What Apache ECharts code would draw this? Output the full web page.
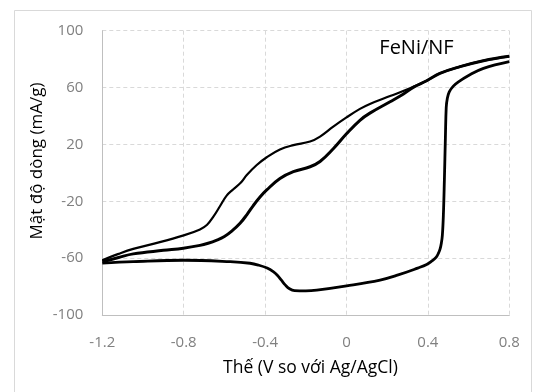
<!DOCTYPE html>
<html>
<head>
<meta charset="utf-8">
<script src="https://cdn.jsdelivr.net/npm/echarts@6/dist/echarts.min.js"></script>
<style>
html,body{margin:0;padding:0;background:#fff;}
#chart{width:533px;height:392px;}
</style>
</head>
<body>
<div id="chart"></div>
<script>
// Axis ticks
var xTicks = [-1.2, -0.8, -0.4, 0, 0.4, 0.8];
var yTicks = [-100, -60, -20, 20, 60, 100];

// Anodic branch (thin, upper)
var upperV = [-1.2, -1.12, -1.048, -0.95, -0.8, -0.72, -0.685, -0.655, -0.622, -0.589, -0.556, -0.52, -0.49, -0.441, -0.392, -0.327, -0.261, -0.179, -0.13, -0.065, 0.0, 0.066, 0.115, 0.214, 0.312, 0.394, 0.459, 0.558, 0.673, 0.8];
var upperI = [-61.5, -57, -53.5, -50, -44, -39.8, -36.5, -31, -23.5, -16, -11.5, -7, -1.5, 5.5, 11, 16.5, 19.5, 22, 25.5, 32.5, 39, 45, 48.5, 54, 59.5, 64.8, 70, 74.7, 78.9, 82];

// Anodic branch (thick, middle) – joins the upper branch near 0.3 V
var middleV = [-1.2, -1.12, -1.048, -0.9, -0.802, -0.72, -0.68, -0.64, -0.6, -0.56, -0.523, -0.49, -0.458, -0.425, -0.392, -0.327, -0.261, -0.179, -0.13, -0.065, 0.0, 0.066, 0.115, 0.214, 0.28, 0.33, 0.394, 0.459, 0.558, 0.673, 0.8];
var middleI = [-62.5, -59.5, -57, -54.5, -53, -51, -49.5, -47.5, -44.8, -40.5, -35.5, -29.5, -23, -17, -12, -4, 0.8, 4.3, 8, 17, 27.5, 37, 42, 50, 55.5, 60.3, 64.8, 70, 74.7, 78.9, 82];

// Cathodic branch (lower), from 0.8 V back to -1.2 V
var lowerV = [0.8, 0.673, 0.6, 0.55, 0.525, 0.505, 0.495, 0.49, 0.486, 0.481, 0.476, 0.471, 0.466, 0.46, 0.452, 0.44, 0.42, 0.394, 0.35, 0.25, 0.165, 0.001, -0.146, -0.2, -0.255, -0.28, -0.3, -0.32, -0.34, -0.36, -0.39, -0.43, -0.474, -0.572, -0.8, -1.048, -1.2];
var lowerI = [78.2, 73.5, 68.5, 64, 61, 57, 52, 46, 25, -5, -30, -44, -49.5, -53.5, -56.5, -59.5, -62, -64.5, -67, -72, -75.4, -79.5, -82.5, -83, -82.8, -81.5, -79, -75.5, -72, -69.5, -67, -65, -63.6, -62.5, -61.5, -62.5, -63.5];

function zip(a, b) { return a.map(function (v, i) { return [v, b[i]]; }); }

var FONT = '"Open Sans", "Noto Sans", sans-serif';
var chart = echarts.init(document.getElementById('chart'), null, {renderer: 'canvas'});

function lineSeries(name, d, w) {
  return {
    name: name, type: 'line', data: d, showSymbol: false, smooth: 0.4,
    lineStyle: {color: '#000', width: w}, animation: false, z: 3
  };
}

chart.setOption({
  animation: false,
  backgroundColor: '#fff',
  grid: {left: 102.3, right: 23.7, top: 30.7, bottom: 77, containLabel: false},
  xAxis: {
    type: 'value', min: xTicks[0], max: xTicks[xTicks.length - 1], interval: 0.4,
    axisLine: {show: true, onZero: false, lineStyle: {color: '#bfbfbf', width: 1}},
    axisTick: {show: false},
    axisLabel: {color: '#808080', fontSize: 15, fontFamily: FONT, margin: 20,
      formatter: function (v) { var r = Math.round(v * 10) / 10; return String(r); }},
    splitLine: {show: true, lineStyle: {color: '#d9d9d9', type: [4, 3], width: 1}}
  },
  yAxis: {
    type: 'value', min: yTicks[0], max: yTicks[yTicks.length - 1], interval: 40,
    axisLine: {show: true, onZero: false, lineStyle: {color: '#bfbfbf', width: 1}},
    axisTick: {show: false},
    axisLabel: {color: '#808080', fontSize: 15, fontFamily: FONT, margin: 19},
    splitLine: {show: true, lineStyle: {color: '#d9d9d9', type: [4, 3], width: 1}}
  },
  graphic: [
    {type: 'rect', shape: {x: 14.5, y: 10.5, width: 517, height: 420}, style: {fill: 'none', stroke: '#d9d9d9', lineWidth: 1}, silent: true},
    {type: 'text', x: 416.5, y: 48, style: {text: 'FeNi/NF', fill: '#000', font: '20px ' + FONT, align: 'center', verticalAlign: 'middle'}},
    {type: 'text', x: 310.5, y: 368.5, style: {text: 'Thế (V so với Ag/AgCl)', fill: '#000', font: '17.5px ' + FONT, align: 'center', verticalAlign: 'middle'}},
    {type: 'text', x: 37.5, y: 161, rotation: Math.PI / 2, style: {text: 'Mật độ dòng (mA/g)', fill: '#000', font: '17px ' + FONT, align: 'center', verticalAlign: 'middle'}}
  ],
  series: [
    lineSeries('upper', zip(upperV, upperI), 2.2),
    lineSeries('middle', zip(middleV, middleI), 3),
    lineSeries('lower', zip(lowerV, lowerI), 2.8)
  ]
});
</script>
</body>
</html>
